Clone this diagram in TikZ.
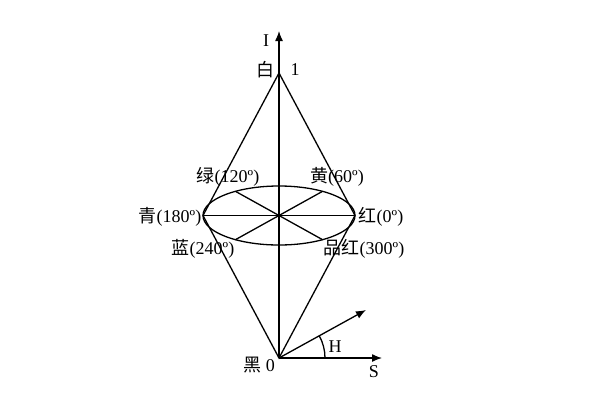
\documentclass[tikz,border=0pt]{standalone}
\usepackage{fontspec}
\setmainfont{Liberation Serif}
\newfontfamily\cjk{Noto Sans CJK SC}
\usetikzlibrary{arrows.meta,calc}
\begin{document}
\begin{tikzpicture}[x=1pt,y=-1pt,line width=1.3pt,
  font=\fontsize{18}{21}\selectfont,
  lbl/.style={inner sep=0pt,anchor=center},
  axisarrow/.style={-{Latex[length=10pt,width=8pt]}}]
\useasboundingbox (0,0) rectangle (600,400);
\coordinate (W) at (279,73);
\coordinate (K) at (279,358);
\coordinate (C) at (279,215.5);
\coordinate (L) at (203,215.5);
\coordinate (R) at (355,215.5);
\coordinate (UR) at (322.6,191.3);
\coordinate (UL) at (235.4,191.3);
\coordinate (LL) at (235.4,239.7);
\coordinate (LR) at (322.6,239.7);
\coordinate (Itop) at (279,31);
\coordinate (Stip) at (382,358);
\coordinate (Htip) at (366,310);
\draw (C) ellipse [x radius=76, y radius=29.5];
\draw (L) -- (R);
\draw (UL) -- (LR);
\draw (UR) -- (LL);
\draw (W) -- (L) -- (K) -- (R) -- cycle;
\draw[axisarrow] (K) -- (Itop);
\draw[axisarrow] (K) -- (Stip);
\draw[axisarrow] (K) -- (Htip);
\draw ($(K)+(46,0)$) arc[start angle=0,end angle=-29,radius=46];
\node[lbl] (lI) at (266,41) {I};
\node[lbl] (lW) at (265,70) {\cjk 白};
\node[lbl] (l1) at (295,70) {1};
\node[lbl] (lG) at (228,177) {{\cjk 绿}(120º)};
\node[lbl] (lY) at (337,177) {{\cjk 黄}(60º)};
\node[lbl] (lC) at (170,217) {{\cjk 青}(180º)};
\node[lbl] (lR) at (381,217) {{\cjk 红}(0º)};
\node[lbl] (lB) at (203,249) {{\cjk 蓝}(240º)};
\node[lbl] (lM) at (364,249) {{\cjk 品红}(300º)};
\node[lbl] (lK) at (259,365) {{\cjk 黑}\ 0};
\node[lbl] (lH) at (335,347) {H};
\node[lbl] (lS) at (374,372) {S};
\end{tikzpicture}
\end{document}
